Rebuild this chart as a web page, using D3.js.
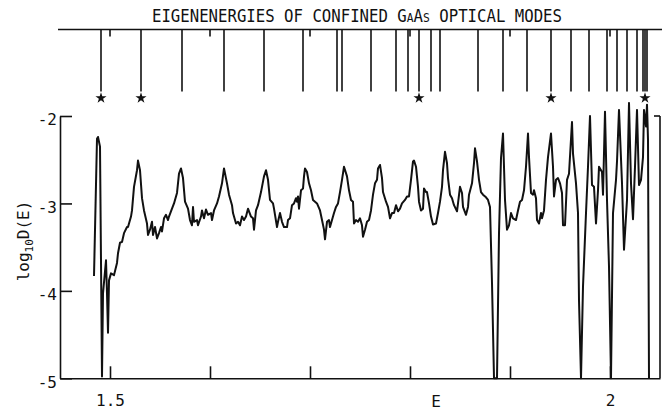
<!DOCTYPE html>
<html>
<head>
<meta charset="utf-8">
<script src="https://cdn.jsdelivr.net/npm/d3@7"></script>
<style>
  body { margin: 0; background: #fff; }
  .chart { width: 664px; height: 415px; }
  text { font-family: "DejaVu Sans Mono", monospace; fill: #111; }
</style>
</head>
<body>
<div class="chart"></div>
<script>
// density of states, log10 D(E)
const energy = [
  1.484,1.487,1.488,1.490,1.492,1.493,1.496,1.497,1.498,1.499,
  1.501,1.504,1.507,1.508,1.510,1.512,1.514,1.517,1.518,1.521,
  1.522,1.524,1.527,1.528,1.530,1.532,1.534,1.537,1.538,1.540,
  1.542,1.543,1.545,1.547,1.549,1.551,1.552,1.554,1.556,1.558,
  1.559,1.562,1.564,1.567,1.569,1.571,1.573,1.575,1.578,1.580,
  1.582,1.583,1.584,1.587,1.588,1.591,1.592,1.594,1.596,1.598,
  1.601,1.602,1.604,1.607,1.609,1.612,1.614,1.617,1.619,1.622,
  1.623,1.626,1.628,1.630,1.632,1.634,1.636,1.638,1.641,1.643,
  1.644,1.646,1.648,1.651,1.653,1.654,1.656,1.658,1.660,1.663,
  1.664,1.667,1.668,1.670,1.672,1.674,1.677,1.678,1.680,1.682,
  1.684,1.686,1.687,1.688,1.689,1.691,1.693,1.694,1.695,1.697,
  1.699,1.701,1.703,1.705,1.707,1.710,1.712,1.714,1.715,1.717,
  1.719,1.720,1.722,1.724,1.726,1.728,1.730,1.732,1.734,1.737,
  1.739,1.741,1.743,1.744,1.746,1.748,1.750,1.752,1.753,1.755,
  1.757,1.759,1.761,1.763,1.765,1.767,1.768,1.770,1.772,1.773,
  1.776,1.778,1.780,1.782,1.784,1.786,1.788,1.790,1.792,1.795,
  1.797,1.799,1.801,1.803,1.804,1.806,1.808,1.809,1.811,1.813,
  1.814,1.816,1.817,1.819,1.821,1.823,1.826,1.828,1.830,1.832,
  1.833,1.835,1.837,1.838,1.840,1.842,1.844,1.847,1.848,1.850,
  1.852,1.853,1.856,1.858,1.859,1.862,1.864,1.865,1.867,1.869,
  1.871,1.873,1.876,1.878,1.880,1.882,1.884,1.887,1.889,1.891,
  1.893,1.895,1.897,1.899,1.901,1.903,1.906,1.908,1.910,1.912,
  1.914,1.916,1.918,1.919,1.921,1.923,1.924,1.926,1.927,1.929,
  1.931,1.932,1.934,1.936,1.938,1.941,1.943,1.944,1.946,1.948,
  1.950,1.952,1.953,1.955,1.957,1.959,1.962,1.963,1.966,1.968,
  1.969,1.971,1.973,1.976,1.978,1.980,1.982,1.984,1.986,1.988,
  1.989,1.992,1.993,1.995,1.997,1.999,2.001,2.003,2.006,2.007,
  2.009,2.012,2.014,2.017,2.019,2.021,2.023,2.025,2.027,2.029,
  2.031,2.033,2.034,2.036,2.037,2.038,2.039
];
const logD = [
  -3.83,-2.26,-2.24,-2.35,-4.98,-4.03,-3.65,-4.03,-4.48,-3.88,
  -3.80,-3.82,-3.68,-3.57,-3.45,-3.44,-3.34,-3.27,-3.27,-3.15,
  -3.08,-2.81,-2.62,-2.51,-2.62,-2.94,-3.08,-3.23,-3.36,-3.30,
  -3.21,-3.36,-3.27,-3.40,-3.34,-3.27,-3.32,-3.17,-3.13,-3.19,
  -3.15,-3.06,-3.00,-2.88,-2.66,-2.60,-2.71,-2.98,-3.06,-3.19,
  -3.25,-3.04,-3.21,-3.19,-3.25,-3.15,-3.08,-3.17,-3.07,-3.13,
  -3.11,-3.19,-3.08,-3.00,-2.92,-2.77,-2.60,-2.77,-2.90,-3.02,
  -3.11,-3.23,-3.21,-3.25,-3.15,-3.19,-3.15,-3.06,-3.15,-3.17,
  -3.30,-3.08,-3.02,-2.87,-2.75,-2.69,-2.62,-2.73,-2.96,-3.00,
  -3.06,-3.27,-3.21,-3.11,-3.21,-3.27,-3.27,-3.19,-3.17,-3.02,
  -3.00,-2.94,-2.98,-2.92,-3.06,-2.85,-2.83,-2.69,-2.60,-2.64,
  -2.77,-2.85,-2.96,-2.98,-3.00,-3.08,-3.19,-3.30,-3.41,-3.21,
  -3.19,-3.27,-3.19,-3.11,-3.04,-3.00,-2.87,-2.73,-2.58,-2.69,
  -2.85,-2.96,-2.98,-3.23,-3.19,-3.21,-3.17,-3.25,-3.38,-3.30,
  -3.21,-3.19,-3.08,-2.90,-2.77,-2.73,-2.60,-2.56,-2.71,-2.87,
  -2.98,-3.04,-3.17,-3.11,-3.11,-3.02,-3.09,-3.06,-3.00,-2.96,
  -2.92,-2.92,-2.73,-2.52,-2.51,-2.58,-2.81,-2.98,-3.08,-3.06,
  -2.83,-2.87,-2.87,-3.00,-3.15,-3.24,-3.23,-3.11,-2.98,-2.81,
  -2.62,-2.41,-2.54,-2.71,-2.90,-2.94,-3.02,-3.09,-3.00,-2.81,
  -2.88,-3.04,-3.13,-3.04,-2.90,-2.77,-2.54,-2.37,-2.52,-2.73,
  -2.87,-2.90,-2.93,-2.96,-3.04,-3.91,-5.00,-5.00,-3.34,-2.48,
  -2.20,-2.96,-3.30,-3.25,-3.11,-3.17,-3.19,-3.08,-2.98,-2.96,
  -2.85,-2.58,-2.20,-2.47,-2.88,-2.90,-2.85,-2.94,-3.19,-3.23,
  -3.11,-3.17,-3.08,-2.73,-2.47,-2.20,-2.58,-2.92,-2.73,-2.71,
  -2.77,-2.88,-3.25,-3.25,-2.73,-2.66,-2.07,-2.43,-2.77,-3.11,
  -4.11,-5.00,-3.95,-3.11,-2.58,-2.00,-2.79,-2.81,-3.23,-2.85,
  -2.58,-2.64,-2.90,-1.95,-2.96,-3.72,-5.00,-3.11,-2.73,-2.52,
  -1.93,-2.77,-3.53,-2.96,-1.85,-2.77,-3.18,-2.58,-1.93,-2.79,
  -2.73,-2.47,-1.93,-2.12,-1.87,-2.27,-5.00
];

// eigenenergies of the confined modes (top panel)
const eigenE = [1.491,1.531,1.572,1.614,1.654,1.693,1.727,1.732,1.761,1.786,
  1.798,1.809,1.821,1.830,1.868,1.893,1.917,1.941,1.961,1.979,
  1.997,2.007,2.017,2.027,2.033,2.035,2.037];
const starredE = [1.491,1.531,1.809,1.941,2.035];

const energyTicks = [1.5,1.6,1.7,1.8,1.9,2.0];
const energyLabels = {1.5: '1.5', 2: '2'};
const logTicks = [-5,-4,-3,-2];

const width = 664, height = 415;

const svg = d3.select('.chart')
    .append('svg')
    .attr('width', width)
    .attr('height', height);

const x = d3.scaleLinear().domain([1.45, 2.05]).range([60, 660]);
const y = d3.scaleLinear().domain([-5, -2]).range([378.3, 116]);

// title; small caps turn the lower case of GaAs into small capitals
svg.append('text')
    .attr('x', 357)
    .attr('y', 21.7)
    .attr('text-anchor', 'middle')
    .attr('font-size', 18)
    .style('font-variant', 'small-caps')
    .attr('textLength', 410)
    .attr('lengthAdjust', 'spacingAndGlyphs')
    .text('EIGENENERGIES OF CONFINED GaAs OPTICAL MODES');

// top panel: baseline and mode lines
const topY = 29.5, modeBottom = 91.5;
svg.append('line')
    .attr('x1', 58).attr('x2', 662)
    .attr('y1', topY).attr('y2', topY)
    .attr('stroke', '#111').attr('stroke-width', 1.6);

svg.selectAll('.mode')
    .data(eigenE)
    .enter().append('line')
    .attr('class', 'mode')
    .attr('x1', d => x(d)).attr('x2', d => x(d))
    .attr('y1', topY).attr('y2', modeBottom)
    .attr('stroke', '#111').attr('stroke-width', 1.6);

svg.selectAll('.toptick')
    .data(energyTicks)
    .enter().append('line')
    .attr('class', 'toptick')
    .attr('x1', d => x(d)).attr('x2', d => x(d))
    .attr('y1', topY).attr('y2', topY + 7)
    .attr('stroke', '#111').attr('stroke-width', 1.6);

svg.selectAll('.star')
    .data(starredE)
    .enter().append('path')
    .attr('class', 'star')
    .attr('d', d3.symbol(d3.symbolStar).size(38))
    .attr('transform', d => `translate(${x(d)},98)`)
    .attr('fill', '#111');

// axes
const xAxis = d3.axisBottom(x)
    .tickValues(energyTicks)
    .tickSizeInner(-12)
    .tickSizeOuter(0)
    .tickPadding(16)
    .tickFormat(d => energyLabels[d] || '');

const gx = svg.append('g')
    .attr('transform', `translate(0,${y(-5)})`)
    .call(xAxis);

const yAxis = d3.axisLeft(y)
    .tickValues(logTicks)
    .tickSizeInner(-12)
    .tickSizeOuter(0)
    .tickPadding(3)
    .tickFormat(d => String(d));

const gy = svg.append('g')
    .attr('transform', `translate(${x(1.45)},0)`)
    .call(yAxis);

[gx, gy].forEach(g => {
    g.selectAll('path, line').attr('stroke', '#111').attr('stroke-width', 1.6);
    g.selectAll('text').attr('font-family', '"DejaVu Sans Mono", monospace')
        .attr('font-size', 16).attr('fill', '#111');
});
gy.selectAll('text').attr('dy', '0.55em');

// right frame with its single tick at -2
svg.append('line')
    .attr('x1', x(2.05)).attr('x2', x(2.05))
    .attr('y1', y(-2)).attr('y2', y(-5))
    .attr('stroke', '#111').attr('stroke-width', 1.6);
svg.append('line')
    .attr('x1', x(2.05) - 6).attr('x2', x(2.05))
    .attr('y1', y(-2)).attr('y2', y(-2))
    .attr('stroke', '#111').attr('stroke-width', 1.6);

// axis titles
svg.append('text')
    .attr('x', 436)
    .attr('y', 407)
    .attr('text-anchor', 'middle')
    .attr('font-size', 16)
    .text('E');

const ylab = svg.append('text')
    .attr('transform', 'translate(29,241) rotate(-90)')
    .attr('text-anchor', 'middle')
    .attr('font-size', 16);
ylab.append('tspan').text('log');
ylab.append('tspan').attr('font-size', 11).attr('dy', 4).text('10');
ylab.append('tspan').attr('dy', -4).text('D(E)');

// the curve
const line = d3.line()
    .x((d, i) => x(energy[i]))
    .y((d, i) => y(logD[i]));

svg.append('path')
    .datum(energy)
    .attr('d', line)
    .attr('fill', 'none')
    .attr('stroke', '#111')
    .attr('stroke-width', 2)
    .attr('stroke-linejoin', 'round');
</script>
</body>
</html>
